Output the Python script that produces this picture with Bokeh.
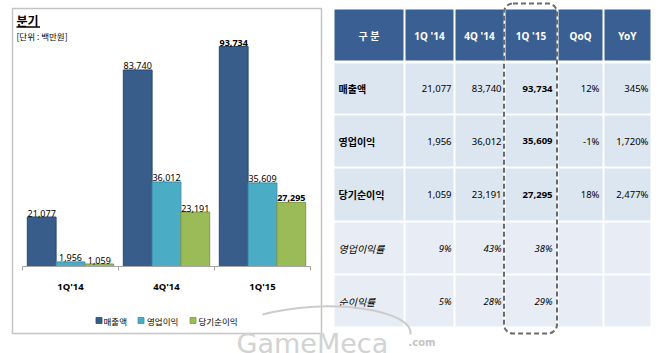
from bokeh.plotting import figure
from bokeh.models import Range1d, ColumnDataSource
from bokeh.embed import file_html
from bokeh.resources import INLINE
from bokeh.core.properties import value

# ---------------- data ----------------
quarters = ["1Q'14", "4Q'14", "1Q'15"]
series_names = ["매출액", "영업이익", "당기순이익"]
sales = [21077, 83740, 93734]
op_income = [1956, 36012, 35609]
net_income = [1059, 23191, 27295]
qoq = ["12%", "-1%", "18%"]
yoy = ["345%", "1,720%", "2,477%"]
op_margin = ["9%", "43%", "38%"]
net_margin = ["5%", "28%", "29%"]
table_headers = ["구 분", "1Q '14", "4Q '14", "1Q '15", "QoQ", "YoY"]
row_labels = ["매출액", "영업이익", "당기순이익", "영업이익률", "순이익률"]
chart_title = "분기"
chart_unit = "[단위 : 백만원]"

# ---------------- layout / style ----------------
W, H = 660, 353
KR = value("Noto Sans CJK KR")
LAT = value("Noto Sans, Noto Sans CJK KR")
BLUE, CYAN, GREEN = "#385D8A", "#4BACC6", "#9BBB59"
BLUE_L, CYAN_L, GREEN_L = "#2B4A70", "#3A8FA6", "#7E9A45"
HEAD = "#3A6093"

BASE_PX = 266          # pixel row of the value axis baseline
PX_PER_UNIT = 220 / 93734.0
GROUP_PX = 96.0
GROUP0_LEFT_PX = 22.0

p = figure(width=W, height=H, x_range=Range1d(0, W), y_range=Range1d(H, 0),
           output_backend="svg", toolbar_location=None,
           x_axis_type=None, y_axis_type=None, min_border=0,
           background_fill_color="white", border_fill_color="white")
p.grid.visible = False
p.outline_line_color = None

bx_start = -0.5 - GROUP0_LEFT_PX / GROUP_PX
p.extra_x_ranges = {"bx": Range1d(bx_start, bx_start + W / GROUP_PX)}
p.extra_y_ranges = {"by": Range1d(-(H - BASE_PX) / PX_PER_UNIT, BASE_PX / PX_PER_UNIT)}

# ---------------- left panel ----------------
p.quad(left=[12], right=[321], top=[8], bottom=[333], fill_color=None,
       line_color="#C4C4C4", line_width=1.5)

p.text(x=[16], y=[20], text=[chart_title], text_font=KR, text_font_size="12px",
       text_font_style="bold", text_baseline="middle", text_color="black")
p.segment(x0=[16], x1=[39.5], y0=[26.5], y1=[26.5], line_color="black", line_width=1.3)
p.text(x=[16], y=[35.5], text=[chart_unit], text_font=KR, text_font_size="8.5px",
       text_baseline="middle", text_color="black")

offsets = [-0.3, 0.0, 0.3]
series = [sales, op_income, net_income]
fills = [BLUE, CYAN, GREEN]
lines = [BLUE_L, CYAN_L, GREEN_L]
label_styles = [["normal", "normal", "bold"], ["normal", "normal", "normal"],
                ["normal", "normal", "bold"]]
for k, vals in enumerate(series):
    xs = [i + offsets[k] for i in range(len(quarters))]
    p.vbar(x=xs, top=vals, bottom=0, width=0.3, fill_color=fills[k],
           line_color=lines[k], line_width=1, x_range_name="bx", y_range_name="by")
    src = ColumnDataSource(dict(x=xs, y=vals, t=[f"{v:,}" for v in vals],
                                s=label_styles[k]))
    p.text(x="x", y="y", text="t", source=src, text_font=LAT, text_font_size="9px",
           text_font_style="s", text_align="center", text_baseline="alphabetic",
           y_offset=-4, text_color="black", x_range_name="bx", y_range_name="by")

# category axis
n = len(quarters)
p.segment(x0=[-0.5], x1=[n - 0.5], y0=[0], y1=[0], line_color="#A6A6A6",
          line_width=1, x_range_name="bx", y_range_name="by")
tick_x = [i - 0.5 for i in range(n + 1)]
p.segment(x0=tick_x, x1=tick_x, y0=[BASE_PX] * (n + 1), y1=[BASE_PX + 4] * (n + 1),
          line_color="#A6A6A6", line_width=1, x_range_name="bx")
p.text(x=list(range(n)), y=[0] * n, text=quarters, text_font=LAT, text_font_size="9.5px",
       text_font_style="bold", text_align="center", text_baseline="middle",
       y_offset=20, text_color="black", x_range_name="bx", y_range_name="by")

# legend
leg_sq_x = [98.5, 140.5, 192.5]
leg_tx_x = [103, 146.5, 198]
p.scatter(x=leg_sq_x, y=[320] * 3, marker="square", size=6, fill_color=fills,
          line_color=lines, line_width=0.8)
p.text(x=leg_tx_x, y=[320] * 3, text=series_names, text_font=KR, text_font_size="8.5px",
       text_baseline="middle", text_color="black")

# ---------------- right panel: table ----------------
col_edges = [333, 404, 454, 504, 557, 603, 651]
body_edges = [62, 114, 167, 221, 274, 327]
row_fills = ["#DCE6F1", "#DCE6F1", "#DCE6F1", "#E8EDF5", "#E8EDF5"]

ncol = len(col_edges) - 1
p.quad(left=[col_edges[j] + 1 for j in range(ncol)],
       right=[col_edges[j + 1] - 1 for j in range(ncol)],
       top=[9] * ncol, bottom=[60] * ncol, fill_color=HEAD, line_color=None)
p.text(x=[(col_edges[j] + col_edges[j + 1]) / 2 for j in range(ncol)], y=[35] * ncol,
       text=table_headers, text_font=LAT, text_font_size="10px", text_font_style="bold",
       text_align="center", text_baseline="middle", text_color="white")

cells = [
    [f"{sales[0]:,}", f"{sales[1]:,}", f"{sales[2]:,}", qoq[0], yoy[0]],
    [f"{op_income[0]:,}", f"{op_income[1]:,}", f"{op_income[2]:,}", qoq[1], yoy[1]],
    [f"{net_income[0]:,}", f"{net_income[1]:,}", f"{net_income[2]:,}", qoq[2], yoy[2]],
    op_margin + ["", ""],
    net_margin + ["", ""],
]
right_pad = [3, 3, 5, 4, 3]
for r in range(len(row_labels)):
    top, bot = body_edges[r] + 1, body_edges[r + 1] - 1
    yc = (body_edges[r] + body_edges[r + 1]) / 2
    p.quad(left=[col_edges[j] + 1 for j in range(ncol)],
           right=[col_edges[j + 1] - 1 for j in range(ncol)],
           top=[top] * ncol, bottom=[bot] * ncol, fill_color=row_fills[r], line_color=None)
    italic = r >= 3
    p.text(x=[338], y=[yc], text=[row_labels[r]], text_font=KR, text_font_size="10px",
           text_font_style="italic" if italic else "bold", text_baseline="middle",
           text_color="black")
    xs = [col_edges[j + 2] - right_pad[j] for j in range(5)]
    styles = []
    for j in range(5):
        if italic:
            styles.append("italic")
        elif j == 2:
            styles.append("bold")
        else:
            styles.append("normal")
    src = ColumnDataSource(dict(x=xs, y=[yc] * 5, t=cells[r], s=styles))
    p.text(x="x", y="y", text="t", source=src, text_font=LAT, text_font_size="9.5px",
           text_font_style="s", text_align="right", text_baseline="middle",
           text_color="black")

# dashed highlight around 1Q '15 column
p.quad(left=[503.5], right=[556.5], top=[3], bottom=[333], fill_color=None,
       line_color="#6B6B6B", line_width=2, line_dash="5 3", border_radius=9)

# ---------------- watermark (on top) ----------------
p.bezier(x0=[262], y0=[314], x1=[410], y1=[334], cx0=[330], cy0=[296],
         cx1=[413], cy1=[310], line_color="#CCCCCC", line_width=2)
p.text(x=[236], y=[343], text=["GameMeca"], text_font=value("DejaVu Sans"),
       text_font_size="27px", text_baseline="alphabetic", text_color="#D2D2D2")
p.text(x=[408], y=[342], text=[".com"], text_font=value("DejaVu Sans"),
       text_font_size="10px", text_font_style="bold", text_baseline="alphabetic",
       text_color="#C4C4C4")

open("out.html", "w").write(file_html(p, INLINE))
